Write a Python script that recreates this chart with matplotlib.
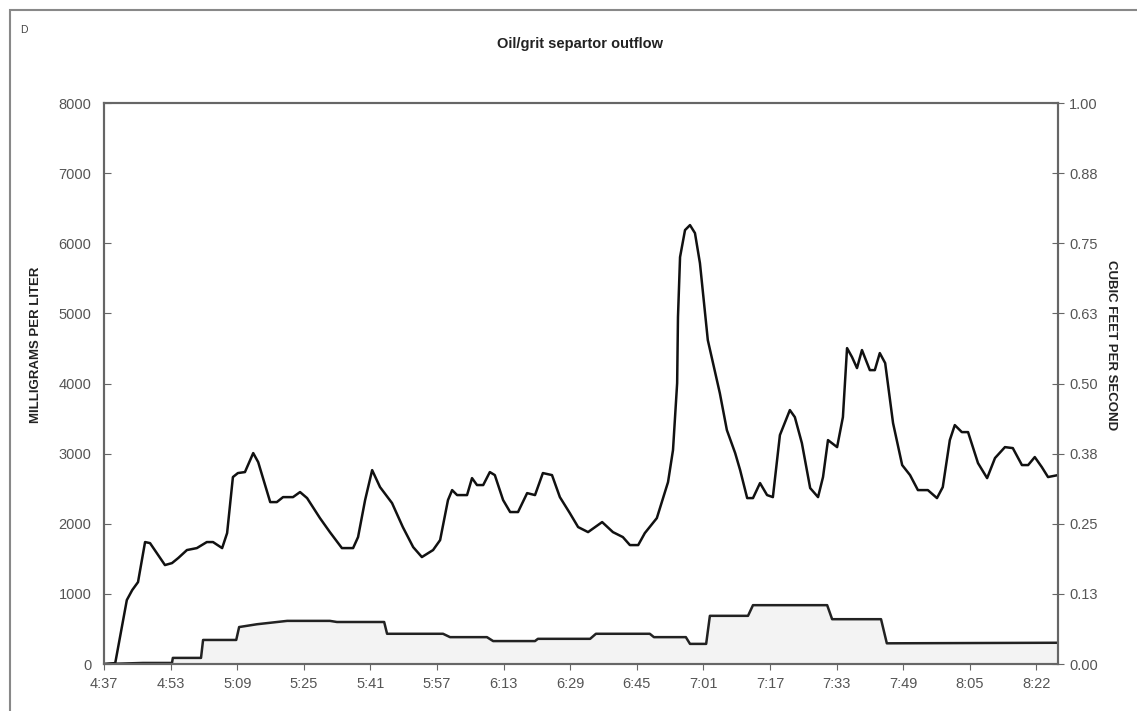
import numpy as np
import matplotlib
matplotlib.use("Agg")
import matplotlib.pyplot as plt
from matplotlib.patches import Rectangle

plt.rcParams['font.family'] = ['Liberation Sans', 'DejaVu Sans']

# minutes after 4:37 and concentration (mg/L)
conc_t = [0.0, 2.7, 4.3, 5.5, 6.8, 8.2, 9.9, 11.1, 14.7, 16.4, 17.9, 20.0, 22.4, 24.8,
          26.3, 28.5, 29.7, 31.1, 32.3, 34.0, 36.0, 37.2, 40.1, 41.7, 43.2, 45.6, 47.3,
          49.0, 52.1, 54.5, 57.4, 60.1, 61.3, 63.0, 64.7, 66.6, 69.5, 72.1, 74.6, 76.7,
          79.4, 81.1, 83.0, 84.0, 85.2, 87.6, 88.8, 90.0, 91.5, 93.1, 94.3, 96.3, 98.0,
          99.9, 102.1, 104.0, 105.9, 108.1, 110.0, 112.4, 114.4, 116.8, 120.2, 122.8,
          125.2, 126.9, 128.9, 130.5, 133.4, 136.1, 137.3, 138.3, 138.5, 139.0, 140.2,
          141.4, 142.6, 143.8, 145.7, 148.6, 150.3, 152.3, 153.5, 155.2, 156.6, 158.3,
          160.0, 161.4, 163.1, 165.5, 166.7, 168.4, 170.4, 172.3, 173.5, 174.7, 176.9,
          178.3, 179.3, 180.5, 181.7, 182.9, 184.8, 186.0, 187.2, 188.5, 190.4, 192.6,
          194.5, 196.4, 198.8, 201.0, 202.4, 204.1, 205.3, 207.0, 208.5, 210.9, 213.1,
          215.0, 217.4, 219.3, 221.5, 223.0, 224.6, 226.3, 227.8, 230.2]
conc_mg = [0, 14, 528, 913, 1055, 1169, 1740, 1725, 1412, 1440, 1512, 1626, 1654, 1740,
           1740, 1654, 1868, 2667, 2724, 2738, 3009, 2880, 2310, 2310, 2381, 2381, 2453,
           2367, 2082, 1882, 1654, 1654, 1811, 2339, 2766, 2524, 2296, 1954, 1668, 1526,
           1626, 1768, 2339, 2481, 2410, 2410, 2652, 2553, 2553, 2738, 2695, 2339, 2168,
           2168, 2438, 2410, 2724, 2695, 2381, 2153, 1954, 1882, 2025, 1882,
           1811, 1697, 1697, 1868, 2082, 2595, 3052, 4007, 4948, 5804, 6189,
           6260, 6146, 5718, 4620, 3864, 3337, 3009, 2766, 2367, 2367, 2581,
           2410, 2381, 3266, 3622, 3522, 3151, 2510, 2381, 2667, 3194, 3094,
           3522, 4506, 4378, 4221, 4478, 4192, 4192, 4435, 4292, 3437, 2838,
           2695, 2481, 2481, 2367, 2524, 3194, 3408, 3308, 3308, 2866, 2652,
           2938, 3094, 3080, 2838, 2838, 2952, 2809, 2667, 2695]

# discharge (cubic feet per second)
flow_t = [0.0, 9.4, 16.4, 16.6, 23.4, 23.9, 31.9, 32.6, 36.9, 44.2, 54.5, 56.2, 67.6,
          68.3, 81.8, 83.5, 92.4, 93.9, 104.0, 104.7, 117.3, 118.7, 131.7, 132.7, 140.4,
          141.4, 145.3, 146.2, 155.4, 156.6, 174.5, 175.7, 187.5, 188.9, 230.2]
flow_cfs = [0.0, 0.002, 0.002, 0.011, 0.011, 0.043, 0.043, 0.066, 0.071, 0.077, 0.077,
            0.075, 0.075, 0.054, 0.054, 0.048, 0.048, 0.041, 0.041, 0.045, 0.045, 0.054,
            0.054, 0.048, 0.048, 0.036, 0.036, 0.086, 0.086, 0.105, 0.105, 0.080, 0.080,
            0.037, 0.038]

time_labels = ['4:37', '4:53', '5:09', '5:25', '5:41', '5:57', '6:13', '6:29', '6:45',
               '7:01', '7:17', '7:33', '7:49', '8:05', '8:22']
cfs_labels = ['0.00', '0.13', '0.25', '0.38', '0.50', '0.63', '0.75', '0.88', '1.00']

fig = plt.figure(figsize=(11.37, 7.11), dpi=100)
ax = fig.add_axes([0.0915, 0.066, 0.839, 0.789])
ax2 = ax.twinx()

tcol = '#555555'
scol = '#666666'

ax2.fill_between(flow_t, 0, flow_cfs, color='#f3f3f3', lw=0)
ax2.plot(flow_t, flow_cfs, color='#222222', lw=1.8)
ax.plot(conc_t, conc_mg, color='#111111', lw=1.8)

ax.set_zorder(ax2.get_zorder() + 1)
ax.patch.set_visible(False)

ax.set_xlim(0, 230.2)
ax.set_ylim(0, 8000)
ax2.set_ylim(0, 1)

ax.set_xticks(np.arange(len(time_labels)) * 225 / 14)
ax.set_xticklabels(time_labels)
ax.set_yticks(np.arange(0, 8001, 1000))
ax2.set_yticks(np.arange(len(cfs_labels)) * 0.125)
ax2.set_yticklabels(cfs_labels)

ax.tick_params(axis='y', direction='in', length=5, color=scol, labelcolor=tcol,
               labelsize=10.5, pad=9)
ax.tick_params(axis='x', direction='out', length=4, color=scol, labelcolor=tcol,
               labelsize=10.5, pad=5)
ax2.tick_params(axis='y', direction='inout', length=8, color=scol, labelcolor=tcol,
                labelsize=10.5, pad=4)

for a in (ax, ax2):
    for s in a.spines.values():
        s.set_color(scol)
        s.set_linewidth(1.5)

fig.text(0.032, 0.515, 'MILLIGRAMS PER LITER', rotation=90, ha='center', va='center',
         fontsize=9.5, fontweight='bold', color='#222222')
fig.text(0.977, 0.515, 'CUBIC FEET PER SECOND', rotation=-90, ha='center', va='center',
         fontsize=9.5, fontweight='bold', color='#222222')
fig.text(0.51, 0.938, 'Oil/grit separtor outflow', ha='center', va='center',
         fontsize=10.5, fontweight='bold', color='#222222')
fig.text(0.018, 0.958, 'D', ha='left', va='center', fontsize=7.5, color='#444444')

fig.patches.append(Rectangle((0.009, -0.05), 1.1, 1.036, transform=fig.transFigure,
                             fill=False, edgecolor='#888888', lw=1.5))

fig.savefig('out.png', dpi=100)
